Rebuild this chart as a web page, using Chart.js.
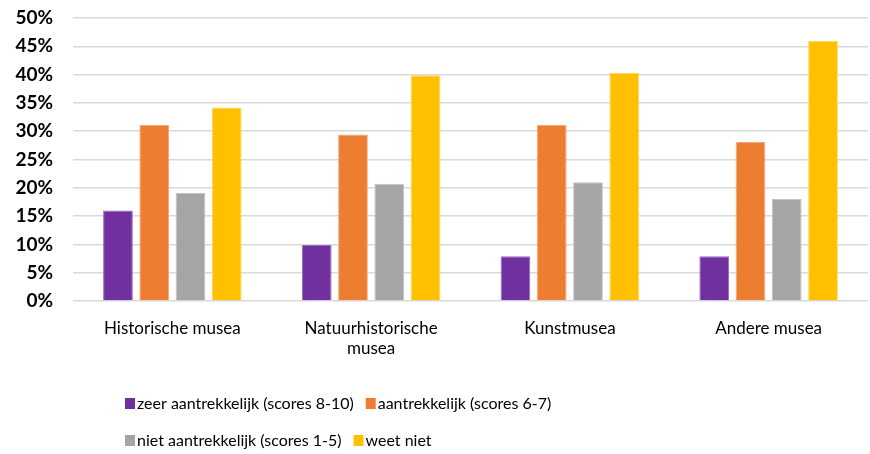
<!DOCTYPE html>
<html><head><meta charset="utf-8">
<script src="https://cdn.jsdelivr.net/npm/chart.js@4.4.1/dist/chart.umd.min.js"></script>
<style>html,body{margin:0;padding:0;background:#fff}#wrap{width:870px;height:454px}</style>
</head><body><div id="wrap"><canvas id="c" width="870" height="454"></canvas></div>
<script>
const categories = [["Historische musea"], ["Natuurhistorische", "musea"], ["Kunstmusea"], ["Andere musea"]];
const seriesNames = ["zeer aantrekkelijk (scores 8-10)", "aantrekkelijk (scores 6-7)", "niet aantrekkelijk (scores 1-5)", "weet niet"];
const zeerAantrekkelijk = [16.0, 9.9, 7.9, 7.9];
const aantrekkelijk = [31.1, 29.4, 31.1, 28.1];
const nietAantrekkelijk = [19.1, 20.7, 21.0, 18.0];
const weetNiet = [34.2, 39.9, 40.3, 46.0];
const yTicks = [0, 5, 10, 15, 20, 25, 30, 35, 40, 45, 50];
const colors = ["#7030a0", "#ed7d31", "#a5a5a5", "#ffc000"];
const borders = ["#9a6ac0", "#f4a679", "#c4c4c4", "#ffd75a"];

const FONT = "'Lato', sans-serif";
const values = [zeerAantrekkelijk, aantrekkelijk, nietAantrekkelijk, weetNiet];

const legendPlugin = {
  id: 'customLegend',
  afterDraw(chart) {
    const ctx = chart.ctx;
    const rows = [[0, 1], [2, 3]];
    const rowY = [404, 441];
    const startX = 125;
    ctx.save();
    ctx.font = "16px " + FONT;
    ctx.textBaseline = 'middle';
    rows.forEach((row, r) => {
      let x = startX;
      row.forEach(i => {
        ctx.fillStyle = colors[i];
        ctx.fillRect(x, rowY[r] - 6, 10, 11);
        x += 12;
        ctx.fillStyle = '#000';
        ctx.fillText(seriesNames[i], x, rowY[r]);
        x += ctx.measureText(seriesNames[i]).width + 12;
      });
    });
    ctx.restore();
  }
};

new Chart(document.getElementById('c'), {
  type: 'bar',
  data: {
    labels: categories,
    datasets: seriesNames.map((n, i) => ({
      label: n,
      data: values[i],
      backgroundColor: colors[i],
      borderColor: borders[i],
      borderWidth: 1,
      categoryPercentage: 0.73,
      barPercentage: 0.82
    }))
  },
  options: {
    responsive: false,
    animation: false,
    layout: { padding: { top: 18, right: 2, bottom: 86, left: 0 } },
    plugins: { legend: { display: false }, tooltip: { enabled: false } },
    scales: {
      x: {
        grid: { display: false },
        border: { display: false },
        afterFit(axis) { axis.height = 67; },
        ticks: { color: '#000', font: { family: FONT, size: 17 }, maxRotation: 0, padding: 9 }
      },
      y: {
        min: 0, max: 50,
        afterBuildTicks(axis) { axis.ticks = yTicks.map(v => ({ value: v })); },
        afterFit(axis) { axis.width = 73; axis.paddingTop = 0; axis.paddingBottom = 0; },
        grid: { color: '#d9d9d9', lineWidth: 1.5, drawTicks: false },
        border: { display: false },
        ticks: {
          color: '#000', padding: 20,
          font: { family: FONT, size: 19, weight: 'bold' },
          callback: v => v + '%'
        }
      }
    }
  },
  plugins: [legendPlugin]
});
</script></body></html>
